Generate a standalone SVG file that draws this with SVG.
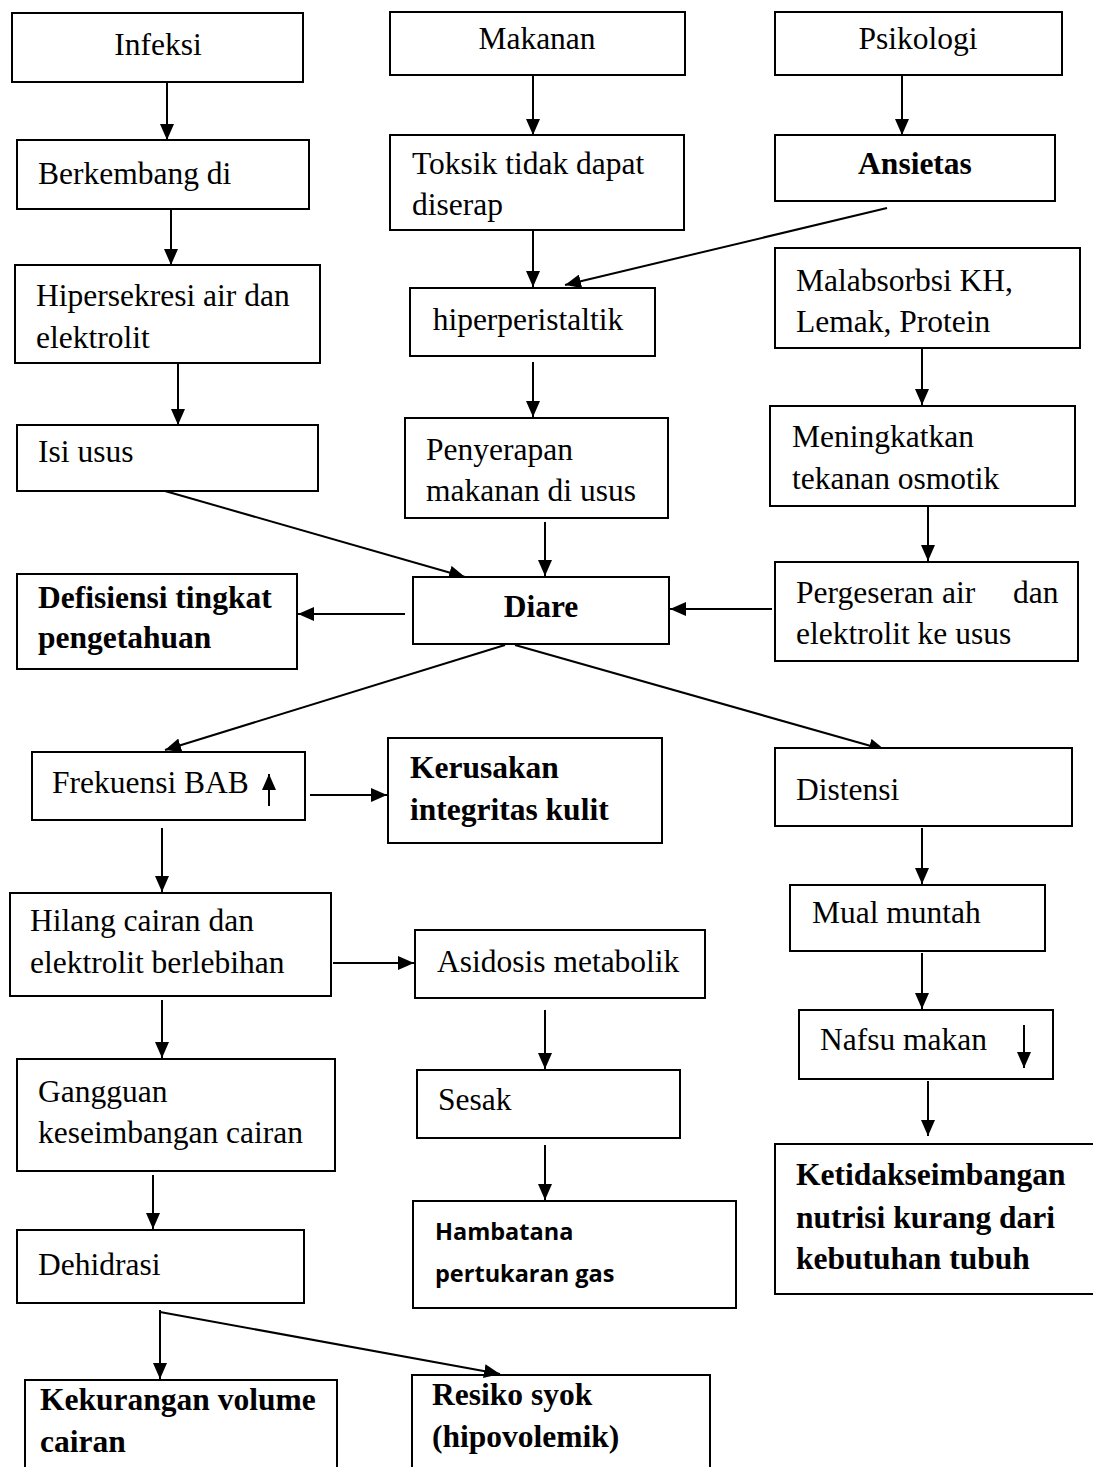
<svg xmlns="http://www.w3.org/2000/svg" width="1093" height="1467" viewBox="0 0 1093 1467">
<style>
.b{fill:#fff;stroke:#000;stroke-width:2}
.o{fill:none;stroke:#000;stroke-width:2}
text{font-family:"Liberation Serif","Times New Roman",serif;font-size:31.5px;fill:#000}
.bd{font-weight:bold}
.c{text-anchor:middle}
.s{font-family:"Open Sans","Liberation Sans",sans-serif;font-weight:bold;font-size:23.5px}
.a{fill:none;stroke:#000;stroke-width:2;marker-end:url(#ah)}
</style>
<defs>
<marker id="ah" markerUnits="userSpaceOnUse" markerWidth="16" markerHeight="14" refX="16" refY="7" orient="auto">
<path d="M0,0 L16,7 L0,14 z" fill="#000"/>
</marker>
</defs>
<rect width="1093" height="1467" fill="#fff"/>
<g id="connectors">
<line class="a" x1="167" y1="82" x2="167" y2="140"/>
<line class="a" x1="171" y1="209" x2="171" y2="265"/>
<line class="a" x1="178" y1="363" x2="178" y2="425"/>
<line class="a" x1="165" y1="491" x2="465" y2="577"/>
<line class="a" x1="533" y1="75" x2="533" y2="135"/>
<line class="a" x1="533" y1="230" x2="533" y2="287"/>
<line class="a" x1="887" y1="208" x2="565" y2="285"/>
<line class="a" x1="533" y1="362" x2="533" y2="417"/>
<line class="a" x1="545" y1="522" x2="545" y2="576"/>
<line class="a" x1="902" y1="75" x2="902" y2="135"/>
<line class="a" x1="922" y1="348" x2="922" y2="405"/>
<line class="a" x1="928" y1="506" x2="928" y2="561"/>
<line class="a" x1="772" y1="609" x2="670" y2="609"/>
<line class="a" x1="405" y1="614" x2="298" y2="614"/>
<line class="a" x1="505" y1="645" x2="165" y2="750"/>
<line class="a" x1="515" y1="645" x2="885" y2="750"/>
<line class="a" x1="310" y1="795" x2="387" y2="795"/>
<line class="a" x1="162" y1="828" x2="162" y2="892"/>
<line class="a" x1="333" y1="963" x2="414" y2="963"/>
<line class="a" x1="162" y1="1000" x2="162" y2="1058"/>
<line class="a" x1="545" y1="1010" x2="545" y2="1069"/>
<line class="a" x1="153" y1="1175" x2="153" y2="1229"/>
<line class="a" x1="545" y1="1145" x2="545" y2="1200"/>
<line class="a" x1="160" y1="1310" x2="160" y2="1379"/>
<line class="a" x1="160" y1="1312" x2="500" y2="1374"/>
<line class="a" x1="922" y1="828" x2="922" y2="884"/>
<line class="a" x1="922" y1="953" x2="922" y2="1009"/>
<line class="a" x1="928" y1="1081" x2="928" y2="1136"/>
</g>
<g id="n-infeksi"><rect class="b" x="12" y="13" width="291" height="69"/><text class="c" x="158" y="55">Infeksi</text></g>
<g id="n-makanan"><rect class="b" x="390" y="12" width="295" height="63"/><text class="c" x="537" y="49">Makanan</text></g>
<g id="n-psikologi"><rect class="b" x="775" y="12" width="287" height="63"/><text class="c" x="918" y="49">Psikologi</text></g>
<g id="n-berkembang"><rect class="b" x="17" y="140" width="292" height="69"/><text x="38" y="184">Berkembang di</text></g>
<g id="n-toksik"><rect class="b" x="390" y="135" width="294" height="95"/><text x="412" y="174">Toksik tidak dapat</text><text x="412" y="215">diserap</text></g>
<g id="n-ansietas"><rect class="b" x="775" y="135" width="280" height="66"/><text class="c bd" x="915" y="174">Ansietas</text></g>
<g id="n-hipersekresi"><rect class="b" x="15" y="265" width="305" height="98"/><text x="36" y="306">Hipersekresi air dan</text><text x="36" y="348">elektrolit</text></g>
<g id="n-hiperperistaltik"><rect class="b" x="410" y="288" width="245" height="68"/><text class="c" x="528" y="330">hiperperistaltik</text></g>
<g id="n-malabsorbsi"><rect class="b" x="775" y="248" width="305" height="100"/><text x="796" y="291">Malabsorbsi KH,</text><text x="796" y="332">Lemak, Protein</text></g>
<g id="n-isiusus"><rect class="b" x="17" y="425" width="301" height="66"/><text x="38" y="462">Isi usus</text></g>
<g id="n-penyerapan"><rect class="b" x="405" y="418" width="263" height="100"/><text x="426" y="460">Penyerapan</text><text x="426" y="501">makanan di usus</text></g>
<g id="n-meningkatkan"><rect class="b" x="770" y="406" width="305" height="100"/><text x="792" y="447">Meningkatkan</text><text x="792" y="489">tekanan osmotik</text></g>
<g id="n-defisiensi"><rect class="b" x="17" y="574" width="280" height="95"/><text class="bd" x="38" y="608">Defisiensi tingkat</text><text class="bd" x="38" y="648">pengetahuan</text></g>
<g id="n-diare"><rect class="b" x="413" y="577" width="256" height="67"/><text class="c bd" x="541" y="617">Diare</text></g>
<g id="n-pergeseran"><rect class="b" x="775" y="562" width="303" height="99"/><text x="796" y="603">Pergeseran</text><text x="942" y="603">air</text><text x="1013" y="603">dan</text><text x="796" y="644">elektrolit ke usus</text></g>
<g id="n-frekuensi"><rect class="b" x="32" y="752" width="273" height="68"/><text x="52" y="793">Frekuensi BAB</text><line class="a" x1="269" y1="806" x2="269" y2="774"/></g>
<g id="n-kerusakan"><rect class="b" x="388" y="738" width="274" height="105"/><text class="bd" x="410" y="778">Kerusakan</text><text class="bd" x="410" y="820">integritas kulit</text></g>
<g id="n-distensi"><rect class="b" x="775" y="748" width="297" height="78"/><text x="796" y="800">Distensi</text></g>
<g id="n-hilang"><rect class="b" x="10" y="893" width="321" height="103"/><text x="30" y="931">Hilang cairan dan</text><text x="30" y="973">elektrolit berlebihan</text></g>
<g id="n-asidosis"><rect class="b" x="415" y="930" width="290" height="68"/><text x="437" y="972">Asidosis metabolik</text></g>
<g id="n-mual"><rect class="b" x="790" y="885" width="255" height="66"/><text x="812" y="923">Mual muntah</text></g>
<g id="n-nafsu"><rect class="b" x="799" y="1010" width="254" height="69"/><text x="820" y="1050">Nafsu makan</text><line class="a" x1="1024" y1="1025" x2="1024" y2="1068"/></g>
<g id="n-gangguan"><rect class="b" x="17" y="1059" width="318" height="112"/><text x="38" y="1102">Gangguan</text><text x="38" y="1143">keseimbangan cairan</text></g>
<g id="n-sesak"><rect class="b" x="417" y="1070" width="263" height="68"/><text x="438" y="1110">Sesak</text></g>
<g id="n-ketidak"><path class="o" d="M1093,1144 H775 V1294 H1093"/><text class="bd" x="796" y="1185">Ketidakseimbangan</text><text class="bd" x="796" y="1228">nutrisi kurang dari</text><text class="bd" x="796" y="1269">kebutuhan tubuh</text></g>
<g id="n-dehidrasi"><rect class="b" x="17" y="1230" width="287" height="73"/><text x="38" y="1275">Dehidrasi</text></g>
<g id="n-hambatana"><rect class="b" x="413" y="1201" width="323" height="107"/><text class="s" x="435" y="1240">Hambatana</text><text class="s" x="435" y="1282">pertukaran gas</text></g>
<g id="n-kekurangan"><path class="o" d="M25,1467 V1380 H337 V1467"/><text class="bd" x="40" y="1410">Kekurangan volume</text><text class="bd" x="40" y="1452">cairan</text></g>
<g id="n-resiko"><path class="o" d="M412,1467 V1375 H710 V1467"/><text class="bd" x="432" y="1405">Resiko syok</text><text class="bd" x="432" y="1447">(hipovolemik)</text></g>
</svg>
